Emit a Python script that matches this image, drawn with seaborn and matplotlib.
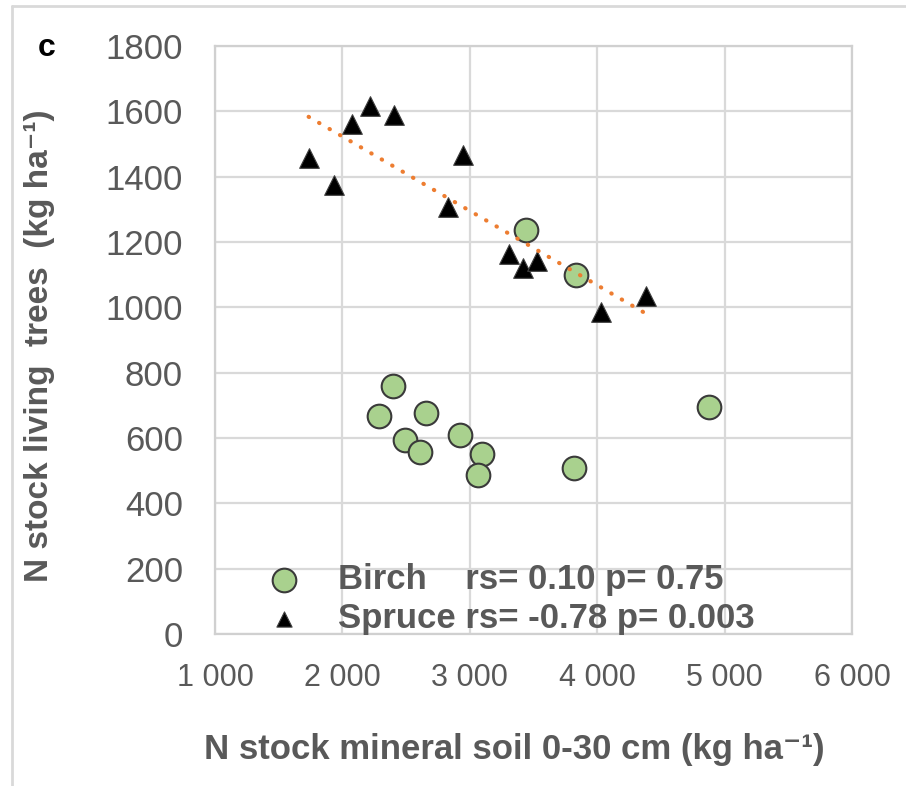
import numpy as np
import pandas as pd
import matplotlib
matplotlib.use("Agg")
import matplotlib.pyplot as plt
import seaborn as sns
from matplotlib.lines import Line2D
from matplotlib.ticker import FuncFormatter

# ---- data ----
birch_x = [3439, 3832, 2394, 2285, 2653, 2489, 2612, 2926, 3093, 3065, 3815, 4879]
birch_y = [1236, 1099, 759, 668, 676, 595, 556, 608, 551, 487, 509, 695]
spruce_x = [1735, 1937, 2076, 2213, 2404, 2950, 2829, 3305, 3415, 3525, 4029, 4386]
spruce_y = [1456, 1376, 1561, 1616, 1589, 1466, 1308, 1163, 1119, 1142, 986, 1035]
birch_label = "Birch    rs= 0.10 p= 0.75"
spruce_label = "Spruce rs= -0.78 p= 0.003"
x_ticks = [1000, 2000, 3000, 4000, 5000, 6000]
y_ticks = [0, 200, 400, 600, 800, 1000, 1200, 1400, 1600, 1800]
panel_letter = "c"

sns.set_theme(style="white")
plt.rcParams['font.family'] = ['Liberation Sans', 'DejaVu Sans']

W, H = 906, 786
fig = plt.figure(figsize=(W / 100, H / 100), dpi=100)
fig.patch.set_facecolor('white')
ax = fig.add_axes([215 / W, 1 - 634 / H, (852 - 215) / W, (634 - 46) / H])

grid_c = '#d9d9d9'
text_c = '#595959'

birch_df = pd.DataFrame({'x': birch_x, 'y': birch_y})
spruce_df = pd.DataFrame({'x': spruce_x, 'y': spruce_y})

sns.scatterplot(data=birch_df, x='x', y='y', marker='o', s=290, color='#a9d18e',
                edgecolor='#3a3a3a', linewidth=1.5, label=birch_label, ax=ax, zorder=3)
sns.scatterplot(data=spruce_df, x='x', y='y', marker='^', s=200, color='black',
                edgecolor='#404040', linewidth=0.8, label=spruce_label, ax=ax, zorder=3)
sns.regplot(data=spruce_df, x='x', y='y', scatter=False, ci=None, truncate=True, ax=ax,
            line_kws=dict(color='#ED7D31', lw=3.0, ls=(0, (0.1, 2.8)),
                          dash_capstyle='round', zorder=4))

ax.set_xlim(1000, 6000)
ax.set_ylim(0, 1800)
ax.set_xticks(x_ticks)
ax.set_yticks(y_ticks)
ax.xaxis.set_major_formatter(FuncFormatter(lambda v, p: f"{int(v):,}".replace(",", " ")))
ax.set_xlabel("")
ax.set_ylabel("")
ax.grid(True, color=grid_c, lw=1.6)
ax.set_axisbelow(True)
for s in ax.spines.values():
    s.set_color('#d0d0d0')
    s.set_linewidth(1.6)
ax.tick_params(axis='both', length=0, colors=text_c)
ax.tick_params(axis='y', labelsize=25, pad=23)
ax.tick_params(axis='x', labelsize=22, pad=21)

leg = ax.legend(loc='upper left', bbox_to_anchor=(256 / W, 1 - 563 / H),
                bbox_transform=fig.transFigure, frameon=False, fontsize=25,
                handletextpad=0.75, labelspacing=0.18, borderpad=0, borderaxespad=0,
                handlelength=1.6)
handles = leg.legend_handles
handles[0].set_sizes([290])
handles[1].set_sizes([120])
for t in leg.get_texts():
    t.set_color(text_c)
    t.set_fontweight('bold')

sup = "\u207b\u00b9"
fig.text(514 / W, 1 - 750 / H, "N stock mineral soil 0-30 cm (kg ha" + sup + ")",
         ha='center', va='center', fontsize=25, fontweight='bold', color=text_c)
fig.text(40 / W, 1 - 346 / H, "N stock living  trees  (kg ha" + sup + ")",
         ha='center', va='center', rotation=90, fontsize=24, fontweight='bold', color=text_c)
fig.text(47 / W, 1 - 48 / H, panel_letter, ha='center', va='center', fontsize=23,
         fontweight='bold', color='black')

# outer chart frame (top and left edges visible)
fig.add_artist(Line2D([12 / W, 12 / W], [0, 1 - 6 / H], color=grid_c, lw=2, transform=fig.transFigure))
fig.add_artist(Line2D([12 / W, 1], [1 - 6 / H, 1 - 6 / H], color=grid_c, lw=2, transform=fig.transFigure))

fig.savefig("out.png", dpi=100, facecolor='white')
